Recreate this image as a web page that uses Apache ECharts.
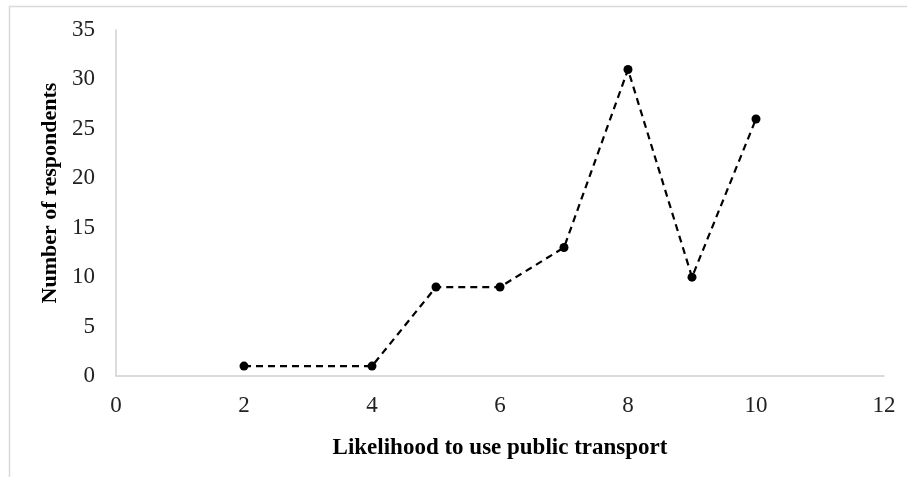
<!DOCTYPE html>
<html><head><meta charset="utf-8">
<script src="https://cdn.jsdelivr.net/npm/echarts@6/dist/echarts.min.js"></script>
<style>
html,body{margin:0;padding:0;background:#fff;}
#c{width:907px;height:477px;}
</style></head>
<body><div id="c"></div>
<script>
const likelihood = [2, 4, 5, 6, 7, 8, 9, 10];
const respondents = [1, 1, 9, 9, 13, 31, 10, 26];
const xTitle = 'Likelihood to use public transport';
const yTitle = 'Number of respondents';

const chart = echarts.init(document.getElementById('c'));
const font = '"Liberation Serif", "Times New Roman", serif';
chart.setOption({
  animation: false,
  textStyle: {fontFamily: font},
  graphic: [{
    type: 'rect', left: 7, top: 4,
    shape: {width: 910, height: 472},
    style: {fill: 'none', stroke: '#d9d9d9', lineWidth: 1.5}, silent: true
  }],
  grid: {left: 116, right: 23, top: 30, bottom: 101, containLabel: false},
  xAxis: {
    type: 'value', min: 0, max: 12, interval: 2,
    name: xTitle, nameLocation: 'middle', nameGap: 61,
    nameTextStyle: {fontFamily: font, fontWeight: 'bold', fontSize: 23, color: '#000'},
    axisLine: {lineStyle: {color: '#d0d0d0', width: 1.5}},
    axisTick: {show: false},
    splitLine: {show: false},
    axisLabel: {fontFamily: font, fontSize: 23, color: '#222', margin: 18}
  },
  yAxis: {
    type: 'value', min: 0, max: 35, interval: 5,
    name: yTitle, nameLocation: 'middle', nameGap: 53,
    nameTextStyle: {fontFamily: font, fontWeight: 'bold', fontSize: 22, color: '#000', padding: [0, 0, 0, 20]},
    axisLine: {show: true, lineStyle: {color: '#d0d0d0', width: 1.5}},
    axisTick: {show: false},
    splitLine: {show: false},
    axisLabel: {fontFamily: font, fontSize: 23, color: '#222', margin: 21}
  },
  series: [{
    type: 'line',
    data: likelihood.map((x, i) => [x, respondents[i]]),
    symbol: 'circle', symbolSize: 9,
    itemStyle: {color: '#000'},
    lineStyle: {color: '#000', width: 2.2, type: [7, 5]}
  }]
});
</script></body></html>
